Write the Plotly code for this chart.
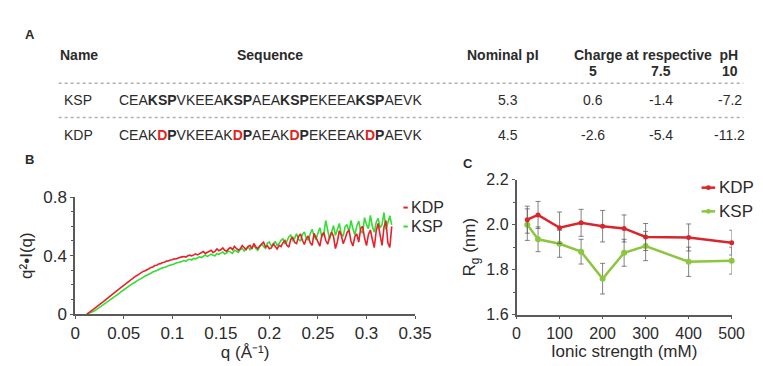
import plotly.graph_objects as go

W, H = 763, 366
def px(x): return x / W
def py(y): return 1 - y / H

# ---------------- data ----------------
# Panel A table
names = ["KSP", "KDP"]
seq_ksp = "CEA<b>KSP</b>VKEEA<b>KSP</b>AEA<b>KSP</b>EKEEA<b>KSP</b>AEVK"
RD = "<span style='color:#e3231f;font-size:14px'>D</span>"
seq_kdp = f"CEAK<b>{RD}P</b>VKEEAK<b>{RD}P</b>AEAK<b>{RD}P</b>EKEEAK<b>{RD}P</b>AEVK"
sequences = [seq_ksp, seq_kdp]
nominal_pi = ["5.3", "4.5"]
ph_labels = ["5", "7.5", "10"]
charges = [["0.6", "-1.4", "-7.2"], ["-2.6", "-5.4", "-11.2"]]

# Panel B: SAXS Kratky curves, q starts at 0.012 with step 0.002
q_start = 0.012
q_step = 0.002
kdp_saxs = [
    0.000, 0.008, 0.018, 0.028, 0.039, 0.048, 0.058, 0.069, 0.079, 0.090,
    0.100, 0.110, 0.121, 0.129, 0.141, 0.152, 0.163, 0.175, 0.186, 0.197,
    0.208, 0.219, 0.227, 0.239, 0.247, 0.258, 0.265, 0.276, 0.281, 0.292,
    0.296, 0.306, 0.310, 0.319, 0.322, 0.332, 0.334, 0.343, 0.345, 0.353,
    0.354, 0.362, 0.363, 0.370, 0.371, 0.378, 0.377, 0.384, 0.385, 0.391,
    0.394, 0.390, 0.399, 0.403, 0.398, 0.406, 0.412, 0.405, 0.414, 0.419,
    0.428, 0.415, 0.423, 0.432, 0.437, 0.421, 0.429, 0.446, 0.433, 0.440,
    0.452, 0.436, 0.430, 0.447, 0.455, 0.441, 0.463, 0.449, 0.437, 0.446,
    0.468, 0.455, 0.441, 0.462, 0.470, 0.446, 0.483, 0.459, 0.448, 0.466,
    0.478, 0.492, 0.458, 0.467, 0.447, 0.452, 0.481, 0.463, 0.445, 0.470,
    0.462, 0.488, 0.503, 0.471, 0.458, 0.512, 0.525, 0.490, 0.482, 0.530,
    0.548, 0.505, 0.476, 0.515, 0.535, 0.488, 0.470, 0.552, 0.526, 0.495,
    0.465, 0.540, 0.558, 0.505, 0.478, 0.525, 0.560, 0.532, 0.448, 0.495,
    0.570, 0.540, 0.482, 0.515, 0.558, 0.575, 0.500, 0.465, 0.530, 0.548,
    0.492, 0.585, 0.600, 0.520, 0.468, 0.545, 0.575, 0.510, 0.455, 0.570,
    0.620, 0.540, 0.470, 0.595, 0.640, 0.488, 0.455, 0.600,
]
ksp_saxs = [
    0.000, 0.004, 0.009, 0.015, 0.022, 0.031, 0.040, 0.049, 0.058, 0.068,
    0.078, 0.086, 0.097, 0.105, 0.115, 0.123, 0.135, 0.144, 0.156, 0.164,
    0.176, 0.184, 0.195, 0.202, 0.213, 0.219, 0.229, 0.235, 0.245, 0.251,
    0.260, 0.265, 0.274, 0.279, 0.288, 0.292, 0.300, 0.303, 0.311, 0.314,
    0.321, 0.324, 0.331, 0.334, 0.341, 0.343, 0.349, 0.351, 0.357, 0.359,
    0.366, 0.361, 0.372, 0.375, 0.370, 0.381, 0.378, 0.386, 0.392, 0.387,
    0.396, 0.404, 0.393, 0.401, 0.410, 0.402, 0.398, 0.414, 0.408, 0.417,
    0.425, 0.411, 0.418, 0.432, 0.424, 0.415, 0.438, 0.429, 0.421, 0.442,
    0.450, 0.432, 0.445, 0.462, 0.440, 0.452, 0.470, 0.448, 0.437, 0.460,
    0.478, 0.462, 0.450, 0.485, 0.492, 0.466, 0.473, 0.498, 0.470, 0.482,
    0.505, 0.515, 0.480, 0.497, 0.528, 0.540, 0.503, 0.518, 0.550, 0.512,
    0.498, 0.545, 0.562, 0.520, 0.505, 0.548, 0.580, 0.532, 0.510, 0.555,
    0.590, 0.528, 0.545, 0.640, 0.575, 0.512, 0.560, 0.605, 0.538, 0.582,
    0.620, 0.548, 0.532, 0.598, 0.612, 0.560, 0.640, 0.585, 0.540, 0.602,
    0.635, 0.570, 0.552, 0.660, 0.612, 0.585, 0.675, 0.600, 0.560, 0.628,
    0.655, 0.590, 0.612, 0.695, 0.580, 0.625, 0.672, 0.610,
]

# Panel C: radius of gyration vs ionic strength
ionic = [25, 50, 100, 150, 200, 250, 300, 400, 500]
rg_kdp = [2.022, 2.043, 1.986, 2.008, 1.993, 1.983, 1.945, 1.943, 1.920]
rg_kdp_err = [0.060, 0.060, 0.070, 0.060, 0.070, 0.060, 0.060, 0.060, 0.055]
rg_ksp = [2.000, 1.935, 1.915, 1.880, 1.760, 1.875, 1.905, 1.835, 1.840]
rg_ksp_err = [0.070, 0.055, 0.060, 0.055, 0.068, 0.060, 0.065, 0.065, 0.060]

# ---------------- styles ----------------
FONT = "Liberation Sans, Arial, sans-serif"
TXT = "#2b2b2b"
AX = "#5a5a5a"
RED_B, GREEN_B = "#e8202a", "#33dd33"
RED_C, GREEN_C = "#d8262b", "#8cc63f"

fig = go.Figure()

# Panel B traces (green under red)
fig.add_trace(go.Scatter(y=ksp_saxs, x0=q_start, dx=q_step, mode="lines",
                         line=dict(color=GREEN_B, width=1.6), name="KSP",
                         showlegend=False, xaxis="x", yaxis="y"))
fig.add_trace(go.Scatter(y=kdp_saxs, x0=q_start, dx=q_step, mode="lines",
                         line=dict(color=RED_B, width=1.6), name="KDP",
                         showlegend=False, xaxis="x", yaxis="y"))

# Panel C traces
errstyle = dict(type="data", color="rgba(90,90,90,0.75)", thickness=1, width=2.5)
fig.add_trace(go.Scatter(x=ionic, y=rg_ksp, mode="lines+markers",
                         error_y=dict(array=rg_ksp_err, **errstyle),
                         line=dict(color=GREEN_C, width=2.5),
                         marker=dict(color=GREEN_C, size=6, symbol="circle"),
                         cliponaxis=False, showlegend=False, xaxis="x2", yaxis="y2"))
fig.add_trace(go.Scatter(x=ionic, y=rg_kdp, mode="lines+markers",
                         error_y=dict(array=rg_kdp_err, **errstyle),
                         line=dict(color=RED_C, width=2.5),
                         marker=dict(color=RED_C, size=5, symbol="circle"),
                         cliponaxis=False, showlegend=False, xaxis="x2", yaxis="y2"))

axcommon = dict(showgrid=False, zeroline=False, showline=True, linecolor=AX, linewidth=1.5,
                ticks="outside", ticklen=3, tickcolor=AX, tickwidth=1,
                tickfont=dict(family=FONT, size=17, color=TXT))

fig.update_layout(
    width=W, height=H, margin=dict(l=0, r=0, t=0, b=0),
    paper_bgcolor="white", plot_bgcolor="white",
    font=dict(family=FONT, color=TXT),
    xaxis=dict(domain=[px(64), px(414)], range=[0, 0.35], dtick=0.05, tick0=0,
               anchor="y", title=dict(text="q (Å⁻¹)", standoff=2,
                                      font=dict(family=FONT, size=17, color=TXT)),
               **axcommon),
    yaxis=dict(domain=[py(313.3), py(190)], range=[0, 0.8], tickvals=[0, 0.4, 0.8],
               ticktext=["0", "0.4", "0.8"], anchor="x",
               minor=dict(dtick=0.1, ticks="outside", ticklen=2, tickcolor=AX),
               title=dict(text="q²•I(q)", standoff=6,
                          font=dict(family=FONT, size=17, color=TXT)),
               **axcommon),
    xaxis2=dict(domain=[px(518.5), px(740)], range=[0, 500], dtick=100, tick0=0,
                anchor="y2", title=dict(text="Ionic strength (mM)", standoff=4,
                                        font=dict(family=FONT, size=17, color=TXT)),
                **{**axcommon, "tickfont": dict(family=FONT, size=16, color=TXT)}),
    yaxis2=dict(domain=[py(314), py(171.5)], range=[1.6, 2.2], dtick=0.2, tick0=1.6,
                tickformat=".1f", anchor="x2",
                minor=dict(dtick=0.1, ticks="outside", ticklen=2, tickcolor=AX),
                title=dict(text="R<sub>g</sub> (nm)", standoff=6,
                           font=dict(family=FONT, size=17, color=TXT)),
                **{**axcommon, "tickfont": dict(family=FONT, size=16, color=TXT)}),
)

ann = []
def text(x, y, s, size=14, anchor="center", bold=False, color=TXT):
    ann.append(dict(x=px(x), y=py(y), xref="paper", yref="paper", showarrow=False,
                    text=(f"<b>{s}</b>" if bold else s), xanchor=anchor, yanchor="middle",
                    font=dict(family=FONT, size=size, color=color)))

# Panel labels
text(17, 18, "A", 13, bold=True)
text(17, 150, "B", 13, bold=True)
text(468, 155, "C", 13, bold=True)

# Table header
text(68, 40, "Name", 14, bold=True)
text(265, 40, "Sequence", 14, bold=True)
text(505, 40, "Nominal pI", 14, bold=True)
text(662, 40, "Charge at respective  pH", 14, bold=True)
ph_x = [597, 667, 738]
for xx, lab in zip(ph_x, ph_labels):
    text(xx, 57, lab, 14, bold=True)

row_y = [88, 124]
for r in range(2):
    text(67, row_y[r], names[r], 14)
    text(107, row_y[r], sequences[r], 14, anchor="left")
    text(510, row_y[r], nominal_pi[r], 14)
    for xx, c in zip(ph_x, charges[r]):
        text(xx, row_y[r], c, 14)

shapes = []
for yy in [70, 106]:
    shapes.append(dict(type="line", xref="paper", yref="paper", x0=px(47), x1=px(752),
                       y0=py(yy), y1=py(yy), line=dict(color="#b0b0b0", width=1.5, dash="dot")))

# Panel B legend (short coloured dash + label)
for yy, col, lab in [(201, RED_B, "KDP"), (221, GREEN_B, "KSP")]:
    shapes.append(dict(type="line", xref="paper", yref="paper", x0=px(402), x1=px(406.5),
                       y0=py(yy), y1=py(yy), line=dict(color=col, width=2)))
    text(407.5, yy, lab, 16, anchor="left")

# Panel C legend
for yy, col, lab in [(180, RED_C, "KDP"), (205, GREEN_C, "KSP")]:
    shapes.append(dict(type="line", xref="paper", yref="paper", x0=px(709), x1=px(723),
                       y0=py(yy), y1=py(yy), line=dict(color=col, width=2.5)))
    shapes.append(dict(type="circle", xref="paper", yref="paper", x0=px(713.5), x1=px(718.5),
                       y0=py(yy + 2.5), y1=py(yy - 2.5), line=dict(width=0), fillcolor=col))
    text(725, yy, lab, 17, anchor="left")

fig.update_layout(annotations=ann, shapes=shapes)
fig.write_html("out.html")
